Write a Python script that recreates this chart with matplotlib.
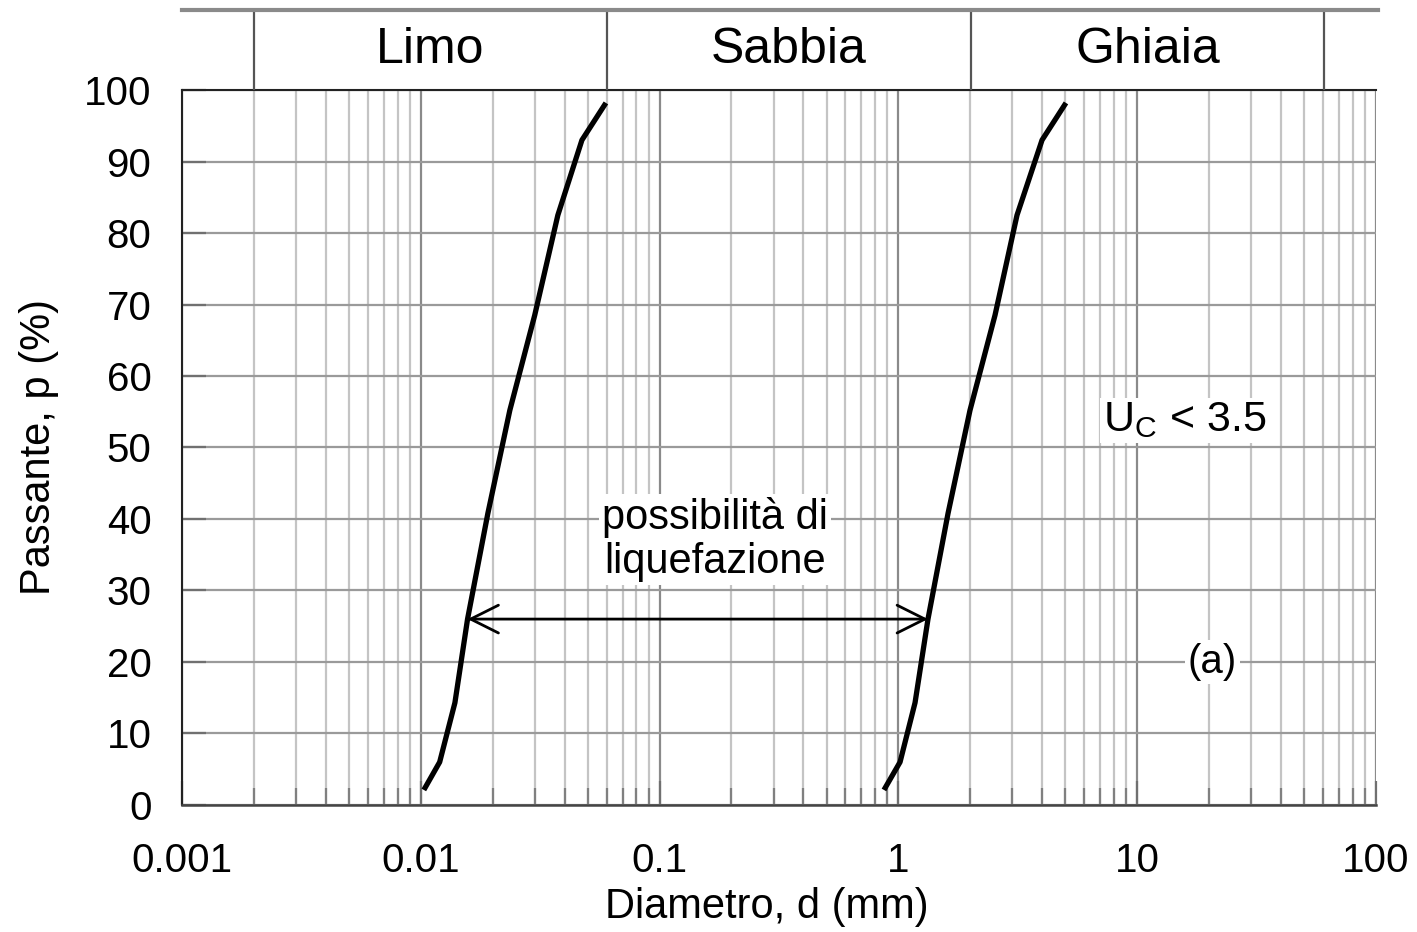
import matplotlib
matplotlib.use("Agg")
import matplotlib.pyplot as plt
from matplotlib.ticker import LogLocator, FixedLocator, NullFormatter

plt.rcParams['font.family'] = ['Liberation Sans', 'DejaVu Sans']
plt.rcParams['mathtext.fontset'] = 'custom'
plt.rcParams['mathtext.rm'] = 'Liberation Sans'
plt.rcParams['mathtext.it'] = 'Liberation Sans'

# curve limite (fuso granulometrico)
d_left = [0.0103, 0.0120, 0.0139, 0.0157, 0.0191, 0.0236, 0.0300, 0.0375, 0.0473, 0.0596]
p_left = [2.1, 6.0, 14.3, 26.0, 40.8, 55.2, 68.5, 82.5, 93.0, 98.2]
d_right = [0.870, 1.016, 1.174, 1.330, 1.614, 1.994, 2.538, 3.138, 3.994, 5.03]
p_right = [2.1, 6.0, 14.3, 26.0, 40.8, 55.2, 68.5, 82.5, 93.0, 98.2]

# classi granulometriche
limiti = [0.002, 0.06, 2, 60]
classi = ['Limo', 'Sabbia', 'Ghiaia']

x_ticks = [0.001, 0.01, 0.1, 1, 10, 100]
x_ticklabels = ['0.001', '0.01', '0.1', '1', '10', '100']
y_ticks = [0, 10, 20, 30, 40, 50, 60, 70, 80, 90, 100]

fig = plt.figure(figsize=(14.17, 9.32), dpi=100)
L, B, W, H = 0.1284, 0.1363, 0.8427, 0.7671
ax = fig.add_axes([L, B, W, H])
ax.set_xscale('log')
ax.set_xlim(0.001, 100)
ax.set_ylim(0, 100)

ax.xaxis.set_major_locator(FixedLocator(x_ticks))
ax.set_xticklabels(x_ticklabels)
ax.xaxis.set_minor_locator(LogLocator(base=10, subs=range(2, 10), numticks=20))
ax.xaxis.set_minor_formatter(NullFormatter())
ax.set_yticks(y_ticks)

ax.grid(which='major', axis='x', color='#8a8a8a', lw=1.6, zorder=0)
ax.grid(which='minor', axis='x', color='#c4c4c4', lw=1.6, zorder=0)
ax.grid(which='major', axis='y', color='#9a9a9a', lw=1.6, zorder=0)
ax.set_axisbelow(True)

ax.tick_params(axis='x', which='major', direction='in', length=17, width=1.6, color='#707070',
               labelsize=29, pad=27)
ax.tick_params(axis='x', which='minor', direction='in', length=12, width=1.6, color='#808080')
ax.tick_params(axis='y', which='major', direction='in', length=17, width=1.6, color='#707070',
               labelsize=29, pad=22)

ax.spines['right'].set_visible(False)
for s in ['left', 'top']:
    ax.spines[s].set_color('#222222')
    ax.spines[s].set_linewidth(1.5)
ax.spines['bottom'].set_color('#444444')
ax.spines['bottom'].set_linewidth(1.8)

ax.plot(d_left, p_left, color='black', lw=3.8, solid_capstyle='butt', zorder=3)
ax.plot(d_right, p_right, color='black', lw=3.8, solid_capstyle='butt', zorder=3)

ax.annotate('', xy=(d_left[3], p_left[3]), xytext=(d_right[3], p_right[3]),
            arrowprops=dict(arrowstyle='<->,head_length=1.0,head_width=0.5',
                            lw=2.0, color='black', mutation_scale=20,
                            shrinkA=0, shrinkB=0), zorder=4)

box = dict(facecolor='white', edgecolor='none', pad=2)
ax.text(0.1706, 37.1, 'possibilità di\nliquefazione', fontsize=30, ha='center', va='center',
        linespacing=1.12, bbox=box, zorder=4)
ax.text(15.8, 53.8, r'U$_{\mathrm{C}}$ < 3.5', fontsize=31, ha='center', va='center',
        bbox=box, zorder=4)
ax.text(20.6, 20.0, '(a)', fontsize=29, ha='center', va='center', bbox=box, zorder=4)

ax.set_xlabel('Diametro, d (mm)', fontsize=30, labelpad=4)
ax.xaxis.set_label_coords(0.49, -0.115)
ax.set_ylabel('Passante, p (%)', fontsize=30, labelpad=18)

# fascia superiore con le classi
top = fig.add_axes([L, B + H, W + 0.0015, 0.9893 - (B + H)])
top.set_xscale('log')
top.set_xlim(0.001, 100 * 1.01)
top.set_ylim(0, 1)
top.set_xticks([])
top.set_yticks([])
top.xaxis.set_minor_locator(FixedLocator([]))
for s in ['left', 'right', 'bottom']:
    top.spines[s].set_visible(False)
top.spines['top'].set_color('#8a8a8a')
top.spines['top'].set_linewidth(3)
for x in limiti:
    top.axvline(x, color='#555555', lw=1.6)
for i, nome in enumerate(classi):
    xc = (limiti[i] * limiti[i + 1]) ** 0.5
    top.text(xc, 0.5, nome, fontsize=36, ha='center', va='center')
top.patch.set_alpha(0)

fig.savefig('out.png', dpi=100)
